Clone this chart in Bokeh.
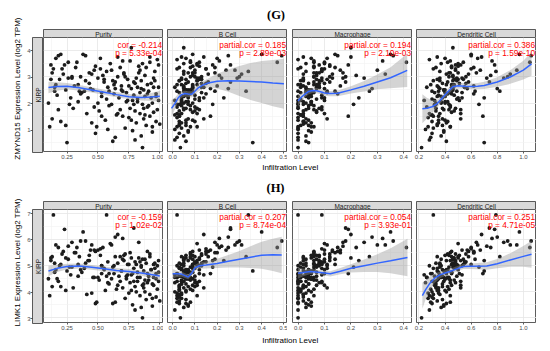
import math
from bokeh.plotting import figure
from bokeh.layouts import row, column
from bokeh.models import Range1d, FixedTicker, Label, Grid, NumeralTickFormatter
from bokeh.embed import file_html
from bokeh.resources import INLINE

# ---------------- data (one entry per tumour sample) -------------
purity = [0.86, 0.77, 0.14, 0.57, 0.12, 0.18, 0.21, 0.10, 0.11, 0.13,
          0.15, 0.16, 0.17, 0.19, 0.20, 0.22, 0.24, 0.26, 0.28, 0.30,
          0.32, 0.34, 0.36, 0.37, 0.39, 0.41, 0.43, 0.44, 0.46, 0.47,
          0.48, 0.49, 0.50, 0.51, 0.52, 0.53, 0.54, 0.55, 0.56, 0.58,
          0.59, 0.60, 0.61, 0.62, 0.63, 0.64, 0.65, 0.66, 0.67, 0.68,
          0.69, 0.70, 0.71, 0.72, 0.73, 0.74, 0.75, 0.76, 0.76, 0.77,
          0.78, 0.79, 0.80, 0.80, 0.81, 0.82, 0.82, 0.83, 0.84, 0.84,
          0.85, 0.85, 0.86, 0.87, 0.87, 0.88, 0.88, 0.89, 0.90, 0.90,
          0.91, 0.92, 0.92, 0.93, 0.94, 0.94, 0.95, 0.95, 0.96, 0.97,
          0.97, 0.98, 0.98, 0.99, 0.99, 1.00, 0.25, 0.33, 0.40, 0.45,
          0.35, 0.29, 0.38, 0.23, 0.42, 0.27, 0.31, 0.64, 0.70, 0.53,
          0.12, 0.16, 0.20, 0.58, 0.47, 0.74, 0.90, 0.83, 0.66, 0.79,
          0.62, 0.71, 0.79, 0.93, 0.88, 0.68, 0.57, 0.45, 0.82, 0.96,
          0.75, 0.86, 0.64, 0.52, 0.40, 0.29, 0.18, 0.13, 0.91, 0.99,
          0.73, 0.84, 0.61, 0.55, 0.78, 0.94, 0.69, 0.48, 0.36, 0.26,
          0.81, 0.97, 0.89, 0.66, 0.59, 0.77, 0.85, 0.72, 0.50, 0.43,
          0.92, 0.80, 0.63, 0.87, 0.95, 0.70, 0.53, 0.34, 0.15, 0.24]
b_cell = [0.035, 0.050, 0.020, 0.340, 0.180, 0.250, 0.150, 0.090, 0.110, 0.070,
          0.130, 0.200, 0.060, 0.120, 0.100, 0.160, 0.080, 0.220, 0.140, 0.050,
          0.190, 0.110, 0.300, 0.070, 0.090, 0.040, 0.130, 0.170, 0.060, 0.240,
          0.030, 0.080, 0.120, 0.100, 0.150, 0.050, 0.210, 0.070, 0.090, 0.140,
          0.040, 0.110, 0.280, 0.060, 0.080, 0.160, 0.030, 0.100, 0.070, 0.120,
          0.050, 0.190, 0.090, 0.040, 0.060, 0.130, 0.020, 0.080, 0.110, 0.050,
          0.070, 0.100, 0.030, 0.150, 0.060, 0.090, 0.040, 0.120, 0.020, 0.080,
          0.050, 0.110, 0.030, 0.070, 0.140, 0.040, 0.090, 0.060, 0.020, 0.100,
          0.050, 0.080, 0.030, 0.120, 0.040, 0.070, 0.010, 0.090, 0.050, 0.030,
          0.060, 0.020, 0.080, 0.040, 0.110, 0.030, 0.360, 0.470, 0.490, 0.310,
          0.330, 0.290, 0.400, 0.260, 0.230, 0.180, 0.200, 0.250, 0.210, 0.170,
          0.060, 0.040, 0.090, 0.010, 0.020, 0.010, 0.150, 0.190, 0.140, 0.260,
          0.030, 0.050, 0.020, 0.060, 0.010, 0.080, 0.100, 0.040, 0.070, 0.030,
          0.090, 0.050, 0.020, 0.060, 0.110, 0.080, 0.050, 0.100, 0.080, 0.050,
          0.030, 0.100, 0.070, 0.040, 0.120, 0.020, 0.060, 0.090, 0.060, 0.120,
          0.040, 0.070, 0.030, 0.110, 0.020, 0.060, 0.090, 0.130, 0.050, 0.070,
          0.040, 0.010, 0.090, 0.060, 0.110, 0.030, 0.130, 0.040, 0.080, 0.030]
macrophage = [0.000, 0.200, 0.000, 0.090, 0.120, 0.150, 0.100, 0.050, 0.060, 0.030,
              0.080, 0.110, 0.040, 0.070, 0.020, 0.130, 0.050, 0.170, 0.090, 0.000,
              0.140, 0.060, 0.180, 0.030, 0.110, 0.020, 0.080, 0.100, 0.040, 0.160,
              0.000, 0.050, 0.130, 0.070, 0.090, 0.030, 0.220, 0.060, 0.000, 0.080,
              0.040, 0.100, 0.300, 0.030, 0.050, 0.120, 0.010, 0.060, 0.040, 0.090,
              0.020, 0.140, 0.070, 0.000, 0.050, 0.110, 0.000, 0.060, 0.080, 0.030,
              0.040, 0.090, 0.020, 0.100, 0.050, 0.070, 0.010, 0.120, 0.000, 0.060,
              0.030, 0.080, 0.020, 0.050, 0.110, 0.000, 0.070, 0.040, 0.010, 0.090,
              0.030, 0.060, 0.020, 0.100, 0.000, 0.050, 0.010, 0.070, 0.030, 0.020,
              0.040, 0.000, 0.060, 0.010, 0.080, 0.020, 0.040, 0.410, 0.360, 0.330,
              0.270, 0.250, 0.350, 0.190, 0.230, 0.210, 0.160, 0.280, 0.320, 0.190,
              0.020, 0.000, 0.140, 0.000, 0.000, 0.000, 0.150, 0.170, 0.200, 0.180,
              0.010, 0.020, 0.000, 0.040, 0.010, 0.060, 0.070, 0.030, 0.050, 0.020,
              0.080, 0.030, 0.000, 0.050, 0.090, 0.060, 0.030, 0.080, 0.060, 0.030,
              0.010, 0.090, 0.050, 0.020, 0.100, 0.000, 0.040, 0.060, 0.040, 0.100,
              0.020, 0.050, 0.010, 0.100, 0.000, 0.040, 0.070, 0.120, 0.030, 0.060,
              0.020, 0.000, 0.070, 0.040, 0.090, 0.020, 0.110, 0.020, 0.050, 0.010]
dendritic = [0.22, 0.46, 0.31, 0.79, 0.52, 0.60, 0.48, 0.40, 0.44, 0.38,
             0.55, 0.65, 0.35, 0.50, 0.42, 0.58, 0.46, 0.72, 0.53, 0.33,
             0.62, 0.45, 0.88, 0.40, 0.49, 0.36, 0.51, 0.57, 0.39, 0.67,
             0.30, 0.44, 0.53, 0.47, 0.60, 0.37, 0.75, 0.42, 0.35, 0.55,
             0.32, 0.50, 0.95, 0.41, 0.45, 0.58, 0.29, 0.46, 0.38, 0.52,
             0.34, 0.63, 0.43, 0.31, 0.40, 0.54, 0.27, 0.44, 0.48, 0.36,
             0.39, 0.47, 0.33, 0.56, 0.41, 0.45, 0.30, 0.50, 0.28, 0.43,
             0.37, 0.49, 0.32, 0.40, 0.52, 0.34, 0.46, 0.38, 0.29, 0.44,
             0.35, 0.42, 0.31, 0.50, 0.33, 0.39, 0.26, 0.45, 0.36, 0.30,
             0.41, 0.28, 0.43, 0.32, 0.48, 0.34, 0.70, 1.05, 1.06, 0.90,
             0.82, 0.85, 0.97, 0.78, 0.70, 0.66, 0.62, 0.80, 0.76, 0.69,
             0.47, 0.41, 0.60, 0.25, 0.26, 0.24, 0.62, 0.64, 0.68, 0.74,
             0.36, 0.41, 0.33, 0.38, 0.30, 0.45, 0.49, 0.35, 0.42, 0.31,
             0.47, 0.37, 0.29, 0.40, 0.46, 0.43, 0.39, 0.50, 0.44, 0.35,
             0.32, 0.48, 0.43, 0.34, 0.51, 0.27, 0.39, 0.45, 0.42, 0.54,
             0.36, 0.40, 0.33, 0.52, 0.30, 0.40, 0.46, 0.56, 0.37, 0.44,
             0.34, 0.28, 0.47, 0.38, 0.49, 0.35, 0.53, 0.37, 0.45, 0.34]
zmynd15 = [0.31, 4.10, 3.30, 3.20, 3.45, 3.80, 3.30, 2.00, 1.10, 1.40,
           2.60, 3.70, 2.30, 2.90, 1.30, 3.10, 2.50, 2.95, 2.20, 1.80,
           3.35, 2.70, 3.00, 2.40, 2.45, 1.60, 2.75, 2.55, 2.50, 3.25,
           0.85, 1.10, 2.95, 1.70, 3.30, 2.25, 3.05, 2.80, 1.35, 2.60,
           1.90, 3.50, 3.25, 0.55, 2.35, 2.80, 1.55, 3.00, 2.20, 1.75,
           2.65, 2.45, 3.15, 1.05, 2.05, 2.90, 1.45, 3.60, 1.80, 2.55,
           0.95, 2.30, 1.70, 2.75, 1.25, 2.60, 2.15, 3.40, 1.60, 2.40,
           0.75, 2.85, 1.95, 2.50, 1.40, 2.25, 3.05, 1.15, 2.70, 1.85,
           2.45, 3.55, 1.50, 2.20, 2.00, 0.90, 2.60, 1.65, 3.20, 1.30,
           2.35, 3.65, 1.75, 2.10, 3.45, 1.20, 0.50, 3.55, 3.80, 3.10,
           2.45, 2.95, 3.85, 3.45, 2.20, 1.95, 2.65, 2.55, 3.60, 1.50,
           2.90, 2.70, 3.85, 1.00, 1.85, 2.10, 2.35, 3.15, 3.75, 2.80,
           2.85, 3.10, 1.95, 2.75, 1.55, 3.35, 2.15, 1.25, 2.05, 2.85,
           2.65, 3.50, 0.70, 3.70, 2.85, 3.00, 1.75, 3.15, 1.90, 2.60,
           2.40, 3.25, 1.95, 2.90, 2.10, 1.10, 2.50, 3.40, 2.35, 3.55,
           2.95, 2.25, 3.35, 1.60, 2.45, 1.35, 2.55, 3.00, 2.00, 3.15,
           3.75, 0.60, 2.70, 1.80, 2.95, 1.50, 2.40, 2.05, 2.45, 1.15]
limk1 = [3.00, 5.30, 6.95, 6.95, 5.20, 5.70, 5.45, 4.50, 3.85, 4.20,
         5.10, 5.80, 4.50, 5.00, 4.20, 5.55, 5.30, 5.75, 4.65, 4.15,
         5.50, 5.05, 5.95, 4.75, 4.90, 3.90, 5.40, 5.60, 4.55, 5.60,
         3.55, 3.60, 5.60, 4.45, 5.65, 5.00, 5.70, 4.85, 4.05, 5.15,
         4.30, 5.85, 5.80, 3.55, 4.70, 5.35, 4.10, 5.10, 4.60, 4.40,
         4.80, 5.25, 5.40, 3.75, 4.50, 5.05, 3.95, 5.50, 4.35, 4.65,
         3.50, 4.90, 4.20, 5.15, 4.00, 4.75, 4.40, 5.30, 3.85, 4.55,
         3.40, 5.00, 4.25, 4.80, 4.15, 4.45, 5.25, 3.70, 4.70, 4.35,
         4.60, 5.45, 3.90, 4.85, 4.30, 3.45, 4.55, 4.25, 5.10, 3.80,
         4.70, 5.00, 4.10, 4.40, 5.20, 3.65, 4.80, 5.70, 5.95, 5.80,
         5.35, 5.90, 6.30, 6.40, 5.20, 4.95, 5.50, 6.10, 6.05, 4.70,
         5.30, 4.85, 5.05, 4.35, 4.55, 4.65, 5.55, 5.90, 6.20, 6.45,
         4.95, 5.20, 4.40, 4.85, 4.00, 5.35, 4.60, 3.95, 4.55, 4.90,
         5.05, 5.25, 3.60, 5.40, 5.10, 4.95, 4.40, 5.35, 4.45, 4.75,
         4.60, 5.15, 4.50, 4.90, 4.70, 3.75, 4.80, 5.55, 4.85, 5.25,
         5.05, 4.50, 5.10, 4.25, 4.70, 4.05, 4.95, 5.45, 4.55, 5.20,
         5.35, 3.30, 5.00, 4.30, 5.05, 4.15, 5.00, 4.60, 4.75, 4.05]

# loess fits: x, fitted value, half-width of the 95% band
fit_g_purity_x = [0.10, 0.17, 0.25, 0.35, 0.45, 0.55, 0.65, 0.75, 0.85, 0.93, 1.00]
fit_g_purity_y = [2.59, 2.63, 2.64, 2.58, 2.50, 2.41, 2.32, 2.24, 2.21, 2.23, 2.26]
fit_g_purity_h = [0.22, 0.16, 0.12, 0.11, 0.10, 0.10, 0.10, 0.10, 0.11, 0.15, 0.21]
fit_g_bcell_x = [-0.005, 0.01, 0.025, 0.04, 0.055, 0.07, 0.085, 0.10, 0.115, 0.135, 0.16, 0.20, 0.25, 0.30, 0.35, 0.40, 0.45, 0.50]
fit_g_bcell_y = [1.80, 1.98, 2.20, 2.32, 2.36, 2.34, 2.33, 2.45, 2.58, 2.68, 2.76, 2.83, 2.85, 2.84, 2.82, 2.80, 2.76, 2.73]
fit_g_bcell_h = [0.32, 0.22, 0.15, 0.12, 0.11, 0.11, 0.12, 0.13, 0.14, 0.15, 0.17, 0.28, 0.42, 0.57, 0.70, 0.80, 0.88, 0.95]
fit_g_mac_x = [0.0, 0.012, 0.025, 0.04, 0.055, 0.07, 0.085, 0.10, 0.12, 0.15, 0.20, 0.25, 0.30, 0.35, 0.413]
fit_g_mac_y = [2.08, 2.22, 2.33, 2.44, 2.48, 2.47, 2.43, 2.38, 2.36, 2.37, 2.50, 2.64, 2.80, 2.96, 3.24]
fit_g_mac_h = [0.20, 0.16, 0.13, 0.11, 0.10, 0.10, 0.10, 0.10, 0.10, 0.11, 0.14, 0.20, 0.28, 0.40, 0.63]
fit_g_dc_x = [0.226, 0.26, 0.30, 0.34, 0.38, 0.42, 0.46, 0.50, 0.55, 0.60, 0.65, 0.70, 0.80, 0.90, 1.00, 1.063]
fit_g_dc_y = [1.78, 1.80, 1.86, 1.98, 2.20, 2.42, 2.62, 2.66, 2.64, 2.63, 2.64, 2.67, 2.80, 2.99, 3.25, 3.49]
fit_g_dc_h = [0.55, 0.40, 0.25, 0.15, 0.12, 0.12, 0.11, 0.11, 0.11, 0.11, 0.12, 0.14, 0.18, 0.26, 0.36, 0.45]
fit_h_purity_x = [0.10, 0.17, 0.25, 0.35, 0.45, 0.55, 0.65, 0.75, 0.85, 0.93, 1.00]
fit_h_purity_y = [4.80, 4.90, 4.97, 4.99, 4.94, 4.88, 4.82, 4.78, 4.72, 4.66, 4.61]
fit_h_purity_h = [0.20, 0.14, 0.11, 0.10, 0.09, 0.09, 0.09, 0.09, 0.10, 0.13, 0.18]
fit_h_bcell_x = [0.0, 0.02, 0.04, 0.055, 0.07, 0.085, 0.10, 0.12, 0.15, 0.20, 0.25, 0.30, 0.35, 0.40, 0.45, 0.49]
fit_h_bcell_y = [4.69, 4.69, 4.68, 4.62, 4.57, 4.70, 4.92, 5.00, 5.03, 5.09, 5.17, 5.25, 5.33, 5.40, 5.42, 5.41]
fit_h_bcell_h = [0.18, 0.12, 0.10, 0.09, 0.09, 0.10, 0.11, 0.12, 0.14, 0.18, 0.24, 0.32, 0.42, 0.52, 0.62, 0.70]
fit_h_mac_x = [0.0, 0.02, 0.047, 0.085, 0.122, 0.16, 0.20, 0.25, 0.30, 0.35, 0.414]
fit_h_mac_y = [4.71, 4.74, 4.78, 4.74, 4.69, 4.79, 4.90, 5.00, 5.10, 5.19, 5.32]
fit_h_mac_h = [0.20, 0.14, 0.10, 0.09, 0.10, 0.12, 0.16, 0.24, 0.34, 0.48, 0.72]
fit_h_dc_x = [0.226, 0.25, 0.284, 0.32, 0.361, 0.40, 0.437, 0.48, 0.54, 0.60, 0.72, 0.80, 0.90, 1.00, 1.063]
fit_h_dc_y = [3.85, 4.07, 4.33, 4.52, 4.65, 4.72, 4.78, 4.86, 4.97, 4.98, 4.99, 5.08, 5.22, 5.36, 5.44]
fit_h_dc_h = [0.50, 0.38, 0.26, 0.18, 0.13, 0.11, 0.10, 0.10, 0.10, 0.11, 0.14, 0.18, 0.26, 0.40, 0.52]

cell_types = ["Purity", "B Cell", "Macrophage", "Dendritic Cell"]
stat_g_line1 = ["cor = -0.214", "partial.cor = 0.185", "partial.cor = 0.194", "partial.cor = 0.386"]
stat_g_line2 = ["p = 5.33e-04", "p = 2.89e-03", "p = 2.10e-03", "p = 1.59e-10"]
stat_h_line1 = ["cor = -0.159", "partial.cor = 0.207", "partial.cor = 0.054", "partial.cor = 0.251"]
stat_h_line2 = ["p = 1.02e-02", "p = 8.74e-04", "p = 3.93e-01", "p = 4.71e-05"]

purity_ticks = [0.25, 0.50, 0.75, 1.00]
bcell_ticks = [0.0, 0.1, 0.2, 0.3, 0.4, 0.5]
mac_ticks = [0.0, 0.1, 0.2, 0.3, 0.4]
dc_ticks = [0.2, 0.4, 0.6, 0.8, 1.0]
g_ticks = [1, 2, 3, 4]
h_ticks = [3, 4, 5, 6, 7]

# ---------------- styling / layout (pixel sizes) ----------------
SANS = "Liberation Sans"
SERIF = "Liberation Serif"
YT_W = 24          # column holding the rotated y-axis titles
LEFT_W = 19        # tick labels + KIRP strip
LEFT_BORDER = 8
PANEL_W = 120
GAPS = [0, 4, 5, 4]
TICK_BORDER = 9
STRIP_H = 10
TOP_H, MID_H, BOT_H = 27, 38, 13
PANEL_H = [115, 114]
TOTAL_W = YT_W + LEFT_W + sum(PANEL_W + g for g in GAPS)
TOTAL_H = TOP_H + MID_H + BOT_H + sum(STRIP_H + h + TICK_BORDER for h in PANEL_H)


def with_ends(t, lo, hi):
    step = t[1] - t[0]
    m = [(a + b) / 2 for a, b in zip(t[:-1], t[1:])]
    out = [t[0] - step / 2] + m + [t[-1] + step / 2]
    return [v for v in out if lo <= v <= hi]


columns_spec = [
    dict(x=purity, xr=(0.06, 1.03), ticks=purity_ticks, fmt="0.00"),
    dict(x=b_cell, xr=(-0.023, 0.516), ticks=bcell_ticks, fmt="0.0"),
    dict(x=macrophage, xr=(-0.021, 0.433), ticks=mac_ticks, fmt="0.0"),
    dict(x=dendritic, xr=(0.181, 1.101), ticks=dc_ticks, fmt="0.0"),
]

rows_spec = [
    dict(y=zmynd15, yr=(0.16, 4.49), ticks=g_ticks, panel_h=PANEL_H[0],
         l1=stat_g_line1, l2=stat_g_line2,
         fits=[(fit_g_purity_x, fit_g_purity_y, fit_g_purity_h),
               (fit_g_bcell_x, fit_g_bcell_y, fit_g_bcell_h),
               (fit_g_mac_x, fit_g_mac_y, fit_g_mac_h),
               (fit_g_dc_x, fit_g_dc_y, fit_g_dc_h)]),
    dict(y=limk1, yr=(2.82, 7.16), ticks=h_ticks, panel_h=PANEL_H[1],
         l1=stat_h_line1, l2=stat_h_line2,
         fits=[(fit_h_purity_x, fit_h_purity_y, fit_h_purity_h),
               (fit_h_bcell_x, fit_h_bcell_y, fit_h_bcell_h),
               (fit_h_mac_x, fit_h_mac_y, fit_h_mac_h),
               (fit_h_dc_x, fit_h_dc_y, fit_h_dc_h)]),
]


def base_fig(**kw):
    p = figure(toolbar_location=None, output_backend="svg", title=None, **kw)
    p.grid.visible = False
    return p


def text_fig(w, h, x0=0):
    return base_fig(width=w, height=h, x_range=Range1d(x0, x0 + w), y_range=Range1d(0, h),
                    x_axis_location=None, y_axis_location=None, min_border=0,
                    outline_line_color=None, background_fill_color="white", border_fill_color="white")


def style_axis(ax):
    ax.axis_line_color = None
    ax.major_tick_line_color = "#333333"
    ax.major_tick_line_width = 0.8
    ax.major_tick_out = 2
    ax.major_tick_in = 0
    ax.minor_tick_line_color = None
    ax.major_label_standoff = 1
    ax.major_label_text_font = SANS
    ax.major_label_text_font_size = "6px"
    ax.major_label_text_color = "#4d4d4d"


def make_left(rs):
    yr = rs["yr_obj"]
    p = base_fig(width=LEFT_W, height=STRIP_H + rs["panel_h"] + TICK_BORDER,
                 x_range=Range1d(0, 1), y_range=yr,
                 x_axis_location=None, y_axis_location="left",
                 min_border_left=LEFT_BORDER, min_border_right=0,
                 min_border_top=STRIP_H, min_border_bottom=TICK_BORDER,
                 background_fill_color="#d9d9d9", border_fill_color="white",
                 outline_line_color="#333333", outline_line_width=0.8)
    ax = p.yaxis[0]
    style_axis(ax)
    ax.major_label_standoff = 0
    ax.ticker = FixedTicker(ticks=rs["ticks"])
    ax.formatter = NumeralTickFormatter(format="0")
    p.add_layout(Label(x=0.5, y=(yr.start + yr.end) / 2, text="KIRP", angle=math.pi / 2,
                       text_align="center", text_baseline="middle", text_font=SANS,
                       text_font_size="6.5px", text_color="#1a1a1a"))
    return p


def make_strip(text, gap):
    p = base_fig(width=PANEL_W + gap, height=STRIP_H, x_range=Range1d(0, 1), y_range=Range1d(0, 1),
                 x_axis_location=None, y_axis_location=None,
                 min_border_left=gap, min_border_right=0, min_border_top=0, min_border_bottom=0,
                 background_fill_color="#d9d9d9", border_fill_color="white",
                 outline_line_color="#333333", outline_line_width=0.8)
    p.add_layout(Label(x=0.5, y=0.5, text=text, text_align="center", text_baseline="middle",
                       text_font=SANS, text_font_size="6.5px", text_color="#1a1a1a"))
    return p


def make_panel(cs, rs, i, gap):
    xr = Range1d(*cs["xr"])
    yr = rs["yr_obj"]
    p = base_fig(width=PANEL_W + gap, height=rs["panel_h"] + TICK_BORDER,
                 x_range=xr, y_range=yr, x_axis_location="below", y_axis_location=None,
                 min_border_left=gap, min_border_right=0, min_border_top=0,
                 min_border_bottom=TICK_BORDER,
                 background_fill_color="white", border_fill_color="white",
                 outline_line_color="#333333", outline_line_width=0.8)
    xt = FixedTicker(ticks=cs["ticks"], minor_ticks=with_ends(cs["ticks"], *cs["xr"]))
    yt = FixedTicker(ticks=rs["ticks"], minor_ticks=with_ends(rs["ticks"], *rs["yr"]))
    for dim, t in ((0, xt), (1, yt)):
        p.add_layout(Grid(dimension=dim, ticker=t, grid_line_color="#e6e6e6", grid_line_width=0.8,
                          minor_grid_line_color="#f2f2f2", minor_grid_line_width=0.6))
    ax = p.xaxis[0]
    style_axis(ax)
    ax.ticker = FixedTicker(ticks=cs["ticks"])
    ax.formatter = NumeralTickFormatter(format=cs["fmt"])

    p.scatter(cs["x"], rs["y"], size=3.8, fill_color="#1c1c1c", line_color=None)
    fx, fy, fh = rs["fits"][i]
    lo = [a - b for a, b in zip(fy, fh)]
    hi = [a + b for a, b in zip(fy, fh)]
    p.varea(x=fx, y1=lo, y2=hi, fill_color="#999999", fill_alpha=0.42)
    p.line(fx, fy, line_color="#3366ff", line_width=1.5)

    p.add_layout(Label(x=xr.end, y=yr.end, x_offset=-1.5, y_offset=-2.5, text=rs["l1"][i],
                       text_align="right", text_baseline="top", text_font=SANS,
                       text_font_size="8.3px", text_color="#ff0000"))
    p.add_layout(Label(x=xr.end, y=yr.end, x_offset=-1.5, y_offset=-10.8, text=rs["l2"][i],
                       text_align="right", text_baseline="top", text_font=SANS,
                       text_font_size="8.3px", text_color="#ff0000"))
    return p


def make_row(rs):
    rs["yr_obj"] = Range1d(*rs["yr"])
    kids = [make_left(rs)]
    for i, (cs, gap) in enumerate(zip(columns_spec, GAPS)):
        kids.append(column(make_strip(cell_types[i], gap), make_panel(cs, rs, i, gap), spacing=0))
    return row(kids, spacing=0)


RIGHT_W = TOTAL_W - YT_W
XTITLE_X = 289.7

top = text_fig(RIGHT_W, TOP_H, YT_W)
top.add_layout(Label(x=275.5, y=TOP_H - 14.7, text="(G)", text_align="center", text_baseline="middle",
                     text_font=SERIF, text_font_style="bold", text_font_size="12.5px", text_color="black"))

mid = text_fig(RIGHT_W, MID_H, YT_W)
mid.add_layout(Label(x=XTITLE_X, y=MID_H - 5.7, text="Infiltration Level", text_align="center",
                     text_baseline="middle", text_font=SANS, text_font_size="8px", text_color="black"))
mid.add_layout(Label(x=275, y=MID_H - 26, text="(H)", text_align="center", text_baseline="middle",
                     text_font=SERIF, text_font_style="bold", text_font_size="12.5px", text_color="black"))

bottom = text_fig(RIGHT_W, BOT_H, YT_W)
bottom.add_layout(Label(x=XTITLE_X, y=BOT_H - 7.7, text="Infiltration Level", text_align="center",
                        text_baseline="middle", text_font=SANS, text_font_size="8px", text_color="black"))

ytitles = text_fig(YT_W, TOTAL_H, 0)
ytitles.add_layout(Label(x=16.5, y=TOTAL_H - 88, text="ZMYND15 Expression Level (log2 TPM)",
                         angle=math.pi / 2, text_align="center", text_baseline="middle",
                         text_font=SANS, text_font_size="8px", text_color="black"))
ytitles.add_layout(Label(x=16.5, y=TOTAL_H - 262, text="LIMK1 Expression Level (log2 TPM)",
                         angle=math.pi / 2, text_align="center", text_baseline="middle",
                         text_font=SANS, text_font_size="8px", text_color="black"))

right = column(top, make_row(rows_spec[0]), mid, make_row(rows_spec[1]), bottom, spacing=0)
layout = row(ytitles, right, spacing=0)

open("out.html", "w").write(file_html(layout, INLINE, title="TIMER correlation"))
